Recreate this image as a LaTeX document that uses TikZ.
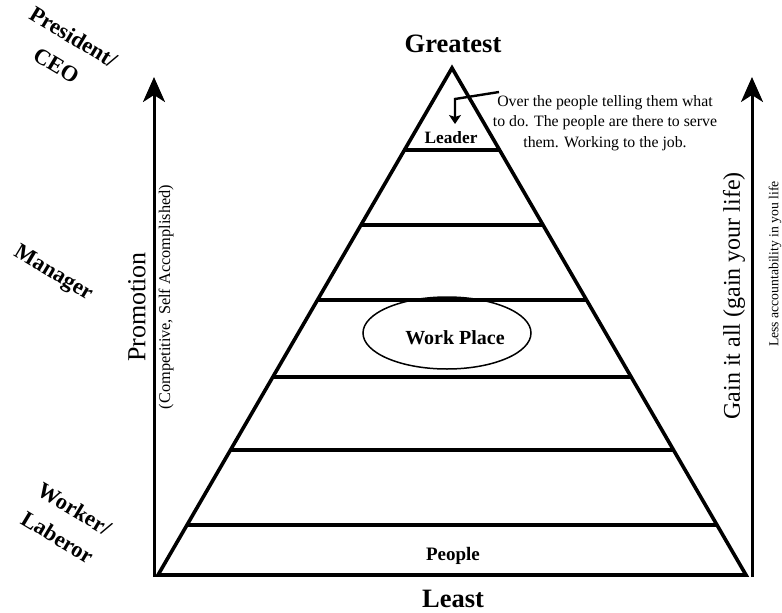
\documentclass[tikz,border=0pt]{standalone}
\usepackage{fontspec}
\setmainfont{Liberation Serif}
\usetikzlibrary{calc,arrows.meta}
\begin{document}
\begin{tikzpicture}[x=1pt,y=-1pt,
  edge/.style={line width=3.6pt,line join=miter},
  tier/.style={line width=3.6pt},
  bigarrow/.style={line width=3pt,-{Stealth[length=25pt,width=22pt,inset=7pt]}},
  lbl/.style={font=\bfseries,inner sep=0pt},
  sidelbl/.style={font=\bfseries\fontsize{22.5}{33}\selectfont,align=center,inner sep=0pt,rotate=-31},
  note/.style={font=\fontsize{15.8}{20.5}\selectfont,align=center,inner sep=0pt}]
\useasboundingbox (0,0) rectangle (782,613);
% pyramid
\coordinate (apex) at (452,68);
\coordinate (bl) at (158,575);
\coordinate (br) at (746,575);
\draw[edge] (bl) -- (apex) -- (br) -- cycle;
\foreach \yy in {150,225,300,377,450,525}{
  \pgfmathsetmacro{\tt}{(\yy-68)/507}
  \draw[tier] ($(apex)!\tt!(bl)$) -- ($(apex)!\tt!(br)$);
}
% side arrows
\coordinate (lb) at (154,577);
\coordinate (lt) at (154,77);
\coordinate (rb) at (752,577);
\coordinate (rt) at (752,77);
\draw[bigarrow] (lb) -- (lt);
\draw[bigarrow] (rb) -- (rt);
% top / bottom labels
\node[lbl,font=\bfseries\fontsize{26.5}{26.5}\selectfont] (greatest) at (453,44) {Greatest};
\node[lbl,font=\bfseries\fontsize{26.5}{26.5}\selectfont] (least) at (453,599) {Least};
\node[lbl,font=\bfseries\fontsize{17.3}{17.3}\selectfont] (leader) at (451,138) {Leader};
\node[lbl,font=\bfseries\fontsize{19}{19}\selectfont] (people) at (453,556) {People};
% work place ellipse
\draw[line width=1.5pt] (447,333) ellipse [x radius=84, y radius=36];
\node[lbl,font=\bfseries\fontsize{20}{20}\selectfont] (work) at (455,338) {Work Place};
% annotation
\node[note] (anno) at (605,123) {Over the people telling them what\\to do. The people are there to serve\\them. Working to the job.};
\coordinate (a1) at (499,92);
\coordinate (a2) at (455,99);
\coordinate (a3) at (455,124);
\draw[line width=2.4pt,-{Stealth[length=9pt,width=12pt,inset=2pt]}] (a1) -- (a2) -- (a3);
% vertical labels
\node[inner sep=0pt,rotate=90,font=\fontsize{26}{26}\selectfont] (promo) at (137,307) {Promotion};
\node[inner sep=0pt,rotate=90,font=\fontsize{16.3}{16.3}\selectfont] (comp) at (166,297) {(Competitive, Self Accomplished)};
\node[inner sep=0pt,rotate=90,font=\fontsize{24}{24}\selectfont] (gain) at (734,296) {Gain it all (gain your life)};
\node[inner sep=0pt,rotate=90,font=\fontsize{13.7}{13.7}\selectfont] (less) at (775,264) {Less accountability in you life};
% rank labels
\node[sidelbl] (ceo) at (65,51) {President/\\CEO};
\node[sidelbl] (mgr) at (53,274) {Manager};
\node[sidelbl] (worker) at (66,523) {Worker/\\Laberor};
\end{tikzpicture}
\end{document}
